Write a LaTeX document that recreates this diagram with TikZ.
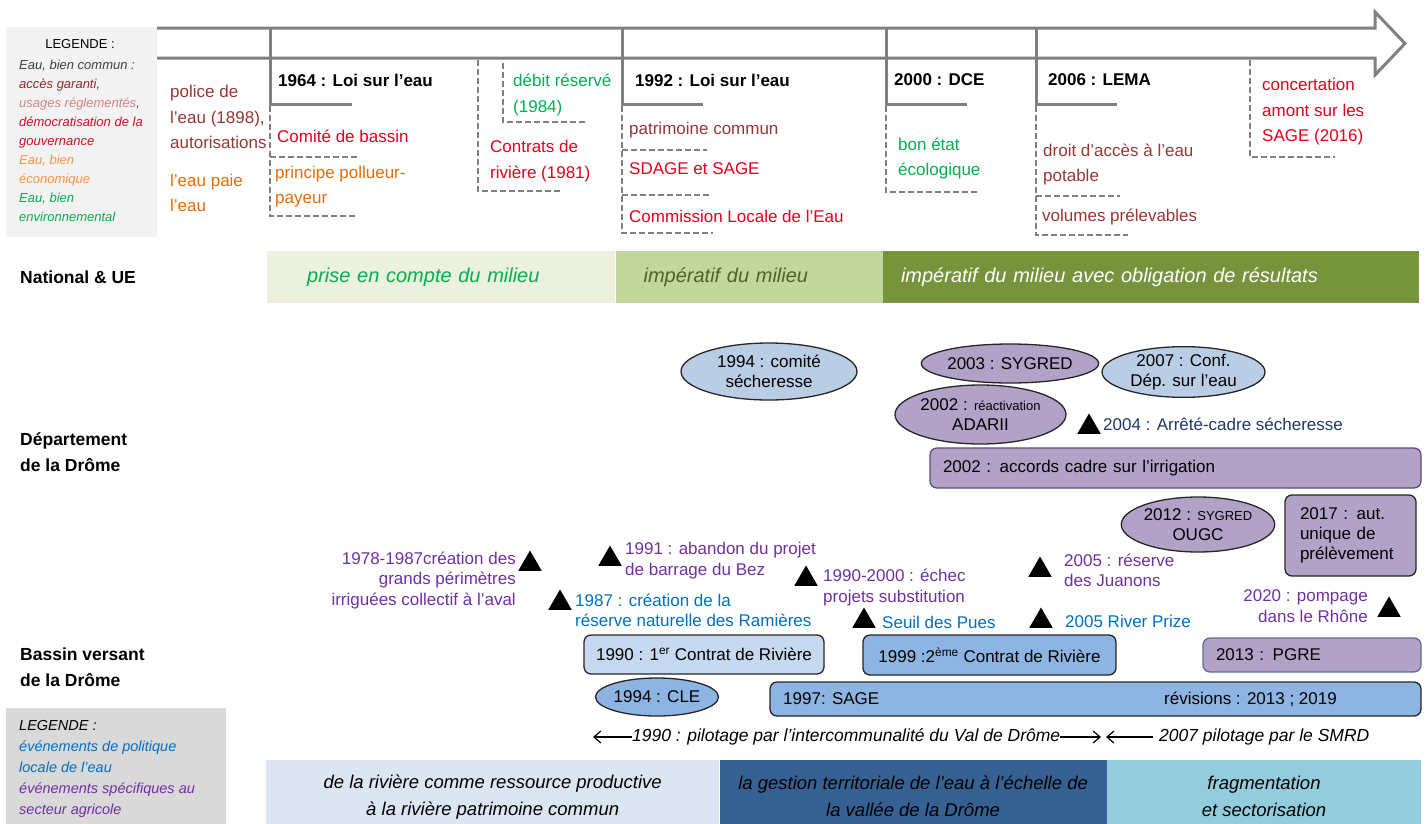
\documentclass[tikz,border=0pt]{standalone}
\usepackage{fontspec}
\setmainfont{Liberation Sans}
\usetikzlibrary{shapes.geometric,arrows.meta,positioning}

\definecolor{axisgray}{HTML}{808080}
\definecolor{darkred}{HTML}{953735}
\definecolor{brightred}{HTML}{E3001B}
\definecolor{orangeeco}{HTML}{E46C0A}
\definecolor{greenenv}{HTML}{00B050}
\definecolor{legdark}{HTML}{3F3F3F}
\definecolor{legmaroon}{HTML}{8B2A2A}
\definecolor{legpink}{HTML}{D48484}
\definecolor{legred}{HTML}{C8102E}
\definecolor{legorange}{HTML}{F79646}
\definecolor{legbox}{HTML}{F2F2F2}
\definecolor{legboxtwo}{HTML}{D9D9D9}
\definecolor{natone}{HTML}{EBF1DE}
\definecolor{nattwo}{HTML}{C3D69B}
\definecolor{natthree}{HTML}{77933C}
\definecolor{olivetxt}{HTML}{4F6228}
\definecolor{ellblue}{HTML}{B9CDE5}
\definecolor{ellpurple}{HTML}{B3A2C7}
\definecolor{boxlight}{HTML}{C6D9F1}
\definecolor{boxblue}{HTML}{8DB4E2}
\definecolor{localblue}{HTML}{0070C0}
\definecolor{agripurple}{HTML}{7030A0}
\definecolor{navytxt}{HTML}{1F3864}
\definecolor{botone}{HTML}{DCE6F2}
\definecolor{bottwo}{HTML}{376092}
\definecolor{botthree}{HTML}{93CDDD}
\definecolor{purpleedge}{HTML}{5F497A}
\definecolor{pgreedge}{HTML}{5B6E91}

\newcommand\sz[2]{\fontsize{#1}{#2}\selectfont}

\begin{document}
\begin{tikzpicture}[x=1pt, y=-1pt, >={Straight Barb[length=7pt,width=12pt]},
    every node/.style={inner sep=0pt},
    txt/.style={anchor=west, align=left, font=\sz{17}{25.5}},
    law/.style={anchor=west, font=\bfseries\sz{17}{20}},
    leg/.style={anchor=west, align=left, font=\itshape\sz{13}{19}},
    rowlbl/.style={anchor=west, align=left, font=\bfseries\sz{17.5}{26}},
    natbar/.style={minimum height=52, anchor=north west, align=left, font=\itshape\sz{20}{24}},
    evt/.style={anchor=west, align=left, font=\sz{17}{20.5}},
    tri/.style={regular polygon, regular polygon sides=3, fill=black, minimum size=27},
    ell/.style={ellipse, draw=black!85, line width=1.3pt, align=center, font=\sz{17}{20}},
    rbox/.style={rounded corners=7pt, draw=black!85, line width=1.3pt, font=\sz{17}{20}},
    axis/.style={draw=axisgray, line width=3pt},
    tick/.style={draw=axisgray, line width=2pt, dash pattern=on 6pt off 3pt},
    pilot/.style={line width=1.2pt},
    botbar/.style={minimum height=73, anchor=north west, align=center, font=\itshape\sz{18.5}{27}}]

\useasboundingbox (0,0) rectangle (1427,823);

\fill[legbox] (6,27) rectangle (157,237);
\node[font=\sz{13}{19}] (legTitle) at (80,44) {LEGENDE :};
\node[leg] (legTop) at (19,140.5) {\textcolor{legdark}{Eau, bien commun :}\\
  \textcolor{legmaroon}{accès garanti}\textcolor{legdark}{,}\\
  \textcolor{legpink}{usages réglementés}\textcolor{legdark}{,}\\
  \textcolor{legred}{démocratisation de la}\\
  \textcolor{legred}{gouvernance}\\
  \textcolor{legorange}{Eau, bien}\\
  \textcolor{legorange}{économique}\\
  \textcolor{greenenv}{Eau, bien}\\
  \textcolor{greenenv}{environnemental}};

\draw[axis, line join=miter] (157,28) -- (1375,28) -- (1375,12) -- (1405,43.5) -- (1375,75) -- (1375,58) -- (157,58);

\coordinate (y64) at (270,28);
\coordinate (y92) at (622,28);
\coordinate (y00) at (886,28);
\coordinate (y06) at (1036,28);
\draw[axis] (y64) |- ++(82,76);
\draw[axis] (y92) |- ++(81,76);
\draw[axis] (y00) |- ++(81,76);
\draw[axis] (y06) |- ++(81,76);

\draw[tick] (357,157) -- (270,157) (270,106) |- (357,216);
\draw[tick] (478,60) |- (560,191);
\draw[tick] (503,63) |- (585,122);
\draw[tick] (622,106) |- (713,233) (622,150) -- (707,150) (622,195) -- (711,195);
\draw[tick] (886,106) |- (977,192);
\draw[tick] (1036,106) |- (1128,235) (1036,196) -- (1120,196);
\draw[tick] (1250,60) |- (1335,157);

\node[txt, text=darkred] (police) at (170,117) {police de\\l’eau (1898),\\autorisations};
\node[txt, text=orangeeco] (paie) at (170,193) {l’eau paie\\l’eau};
\node[law] (loi64) at (278,80) {1964 : Loi sur l’eau};
\node[txt, text=brightred] (comite) at (277,136) {Comité de bassin};
\node[txt, text=orangeeco, font=\sz{17}{24.5}] (pollueur) at (275,186.5) {principe pollueur-\\payeur};
\node[txt, text=greenenv] (debit) at (513,95) {débit réservé\\(1984)};
\node[txt, text=brightred] (contrats) at (490,161) {Contrats de\\rivière (1981)};
\node[law] (loi92) at (635,80) {1992 : Loi sur l’eau};
\node[txt, text=darkred] (patrimoine) at (629,130) {patrimoine commun};
\node[txt, text=brightred] (sdage) at (629,169) {SDAGE et SAGE};
\node[txt, text=brightred] (cle92) at (629,216) {Commission Locale de l’Eau};
\node[law] (dce) at (894,80) {2000 : DCE};
\node[txt, text=greenenv] (bonetat) at (898,158.5) {bon état\\écologique};
\node[law] (lema) at (1048,80) {2006 : LEMA};
\node[txt, text=darkred] (droit) at (1043,164.5) {droit d’accès à l’eau\\potable};
\node[txt, text=darkred] (volumes) at (1042,217) {volumes prélevables};
\node[txt, text=brightred] (concert) at (1262,112) {concertation\\amont sur les\\SAGE (2016)};

\node[rowlbl] (natUE) at (20,277) {National \& UE};
\node[natbar, fill=natone, text=greenenv, inner xsep=40, text width=268] (mil1) at (267,251) {prise en compte du milieu};
\node[natbar, fill=nattwo, text=olivetxt, inner xsep=28, text width=211] (mil2) at (mil1.north east) {impératif du milieu};
\node[natbar, fill=natthree, text=white, inner xsep=18, text width=500] (mil3) at (mil2.north east) {impératif du milieu avec obligation de résultats};

\node[rowlbl] (dept) at (20,452.5) {Département\\de la Drôme};
\node[rowlbl] (bassin) at (20,667) {Bassin versant\\de la Drôme};

\node[ell, fill=ellblue, minimum width=176, minimum height=57] (ell94) at (769,371.5) {1994 : comité\\sécheresse};
\node[ell, fill=ellpurple, minimum width=171, minimum height=39] (syg03) at (1010,363.5) {2003 : SYGRED};
\node[ell, fill=ellblue, minimum width=163, minimum height=50] (conf07) at (1183.5,372) {2007 : Conf.\\Dép. sur l’eau};
\node[ell, fill=ellpurple, minimum width=171, minimum height=59] (adarii) at (980.5,414.5) {2002 : {\sz{13}{15}réactivation}\\ADARII};
\node[tri] (tri04) at (1089,427) {};
\node[evt, text=navytxt] (arr04) at (1103,424) {2004 : Arrêté-cadre sécheresse};
\node[rbox, draw=purpleedge, fill=ellpurple, minimum height=40, text width=465, inner xsep=13, align=left] (accords) at (1175.5,468) {2002 : accords cadre sur l’irrigation};

\node[ell, fill=ellpurple, minimum width=153, minimum height=55] (syg12) at (1198,524.5) {2012 : {\sz{13}{15}SYGRED}\\OUGC};
\node[rbox, fill=ellpurple, minimum height=81, text width=101, inner xsep=15, align=left] (aut17) at (1350.5,535.5) {2017 : aut.\\unique de\\prélèvement};
\node[evt, anchor=east, align=right, text=agripurple] (pomp20) at (1368,606) {2020 : pompage\\dans le Rhône};
\node[tri] (tri20) at (1389,610) {};
\node[tri] (triJ) at (1040,570) {};
\node[evt, text=agripurple] (juan05) at (1064,570.5) {2005 : réserve\\des Juanons};
\node[tri] (triP) at (1041,621) {};
\node[evt, text=localblue] (prize05) at (1065,621) {2005 River Prize};
\node[tri] (triS) at (864,621) {};
\node[evt, text=localblue] (pues) at (882,622) {Seuil des Pues};
\node[tri] (triE) at (806,579) {};
\node[evt, text=agripurple] (echec) at (823,587.5) {1990-2000 : échec\\projets substitution};
\node[tri] (triB) at (610,559) {};
\node[evt, text=agripurple] (bez91) at (625,560.5) {1991 : abandon du projet\\de barrage du Bez};
\node[tri] (triPe) at (530,564) {};
\node[evt, anchor=east, align=right, text=agripurple] (perim) at (516,580) {1978-1987création des\\grands périmètres\\irriguées collectif à l’aval};
\node[tri] (triR) at (560,603) {};
\node[evt, text=localblue] (ram87) at (575,610.5) {1987 : création de la\\réserve naturelle des Ramières};

\node[rbox, fill=boxlight, minimum width=240, minimum height=39] (contrat90) at (704,654.5) {1990 : 1\textsuperscript{er} Contrat de Rivière};
\node[rbox, fill=boxblue, minimum width=253, minimum height=40] (contrat99) at (989.5,655) {1999 :2\textsuperscript{ème} Contrat de Rivière};
\node[rbox, draw=pgreedge, fill=ellpurple, minimum height=34, text width=192, inner xsep=13, align=left] (pgre) at (1312,655) {2013 : PGRE};
\node[ell, fill=boxblue, minimum width=123, minimum height=38] (cle94) at (657,697) {1994 : CLE};
\node[rbox, fill=boxblue, minimum width=651, minimum height=34] (sage97) at (1095.5,699) {};
\node[evt] (sageTxt) at (783,699) {1997: SAGE};
\node[evt] (revis) at (1164,699) {révisions : 2013 ; 2019};

\node[evt, font=\itshape\sz{17.5}{20}] (pil1) at (632,737) {1990 : pilotage par l’intercommunalité du Val de Drôme};
\node[evt, font=\itshape\sz{17.5}{20}] (pil2) at (1159,737) {2007 pilotage par le SMRD};
\coordinate (pilL) at (593,737);
\coordinate (pilR) at (1101,737);
\coordinate (pilM) at (1106,737);
\draw[pilot, ->] (pil1.west) -- (pilL);
\draw[pilot, ->] (pil1.east) -- (pilR);
\draw[pilot, ->, shorten <=6pt] (pil2.west) -- (pilM);

\node[botbar, fill=botone, minimum width=453] (bar1) at (266,760) {de la rivière comme ressource productive\\à la rivière patrimoine commun};
\node[botbar, fill=bottwo, minimum width=387] (bar2) at (bar1.north east) {la gestion territoriale de l’eau à l’échelle de\\la vallée de la Drôme};
\node[botbar, fill=botthree, minimum width=314] (bar3) at (bar2.north east) {fragmentation\\et sectorisation};

\fill[legboxtwo] (6,708) rectangle (226,830);
\node[leg, font=\itshape\sz{14.5}{21}] (legBot) at (19,769) {LEGENDE :\\
  \textcolor{localblue}{événements de politique}\\
  \textcolor{localblue}{locale de l’eau}\\
  \textcolor{agripurple}{événements spécifiques au}\\
  \textcolor{agripurple}{secteur agricole}};
\end{tikzpicture}
\end{document}
